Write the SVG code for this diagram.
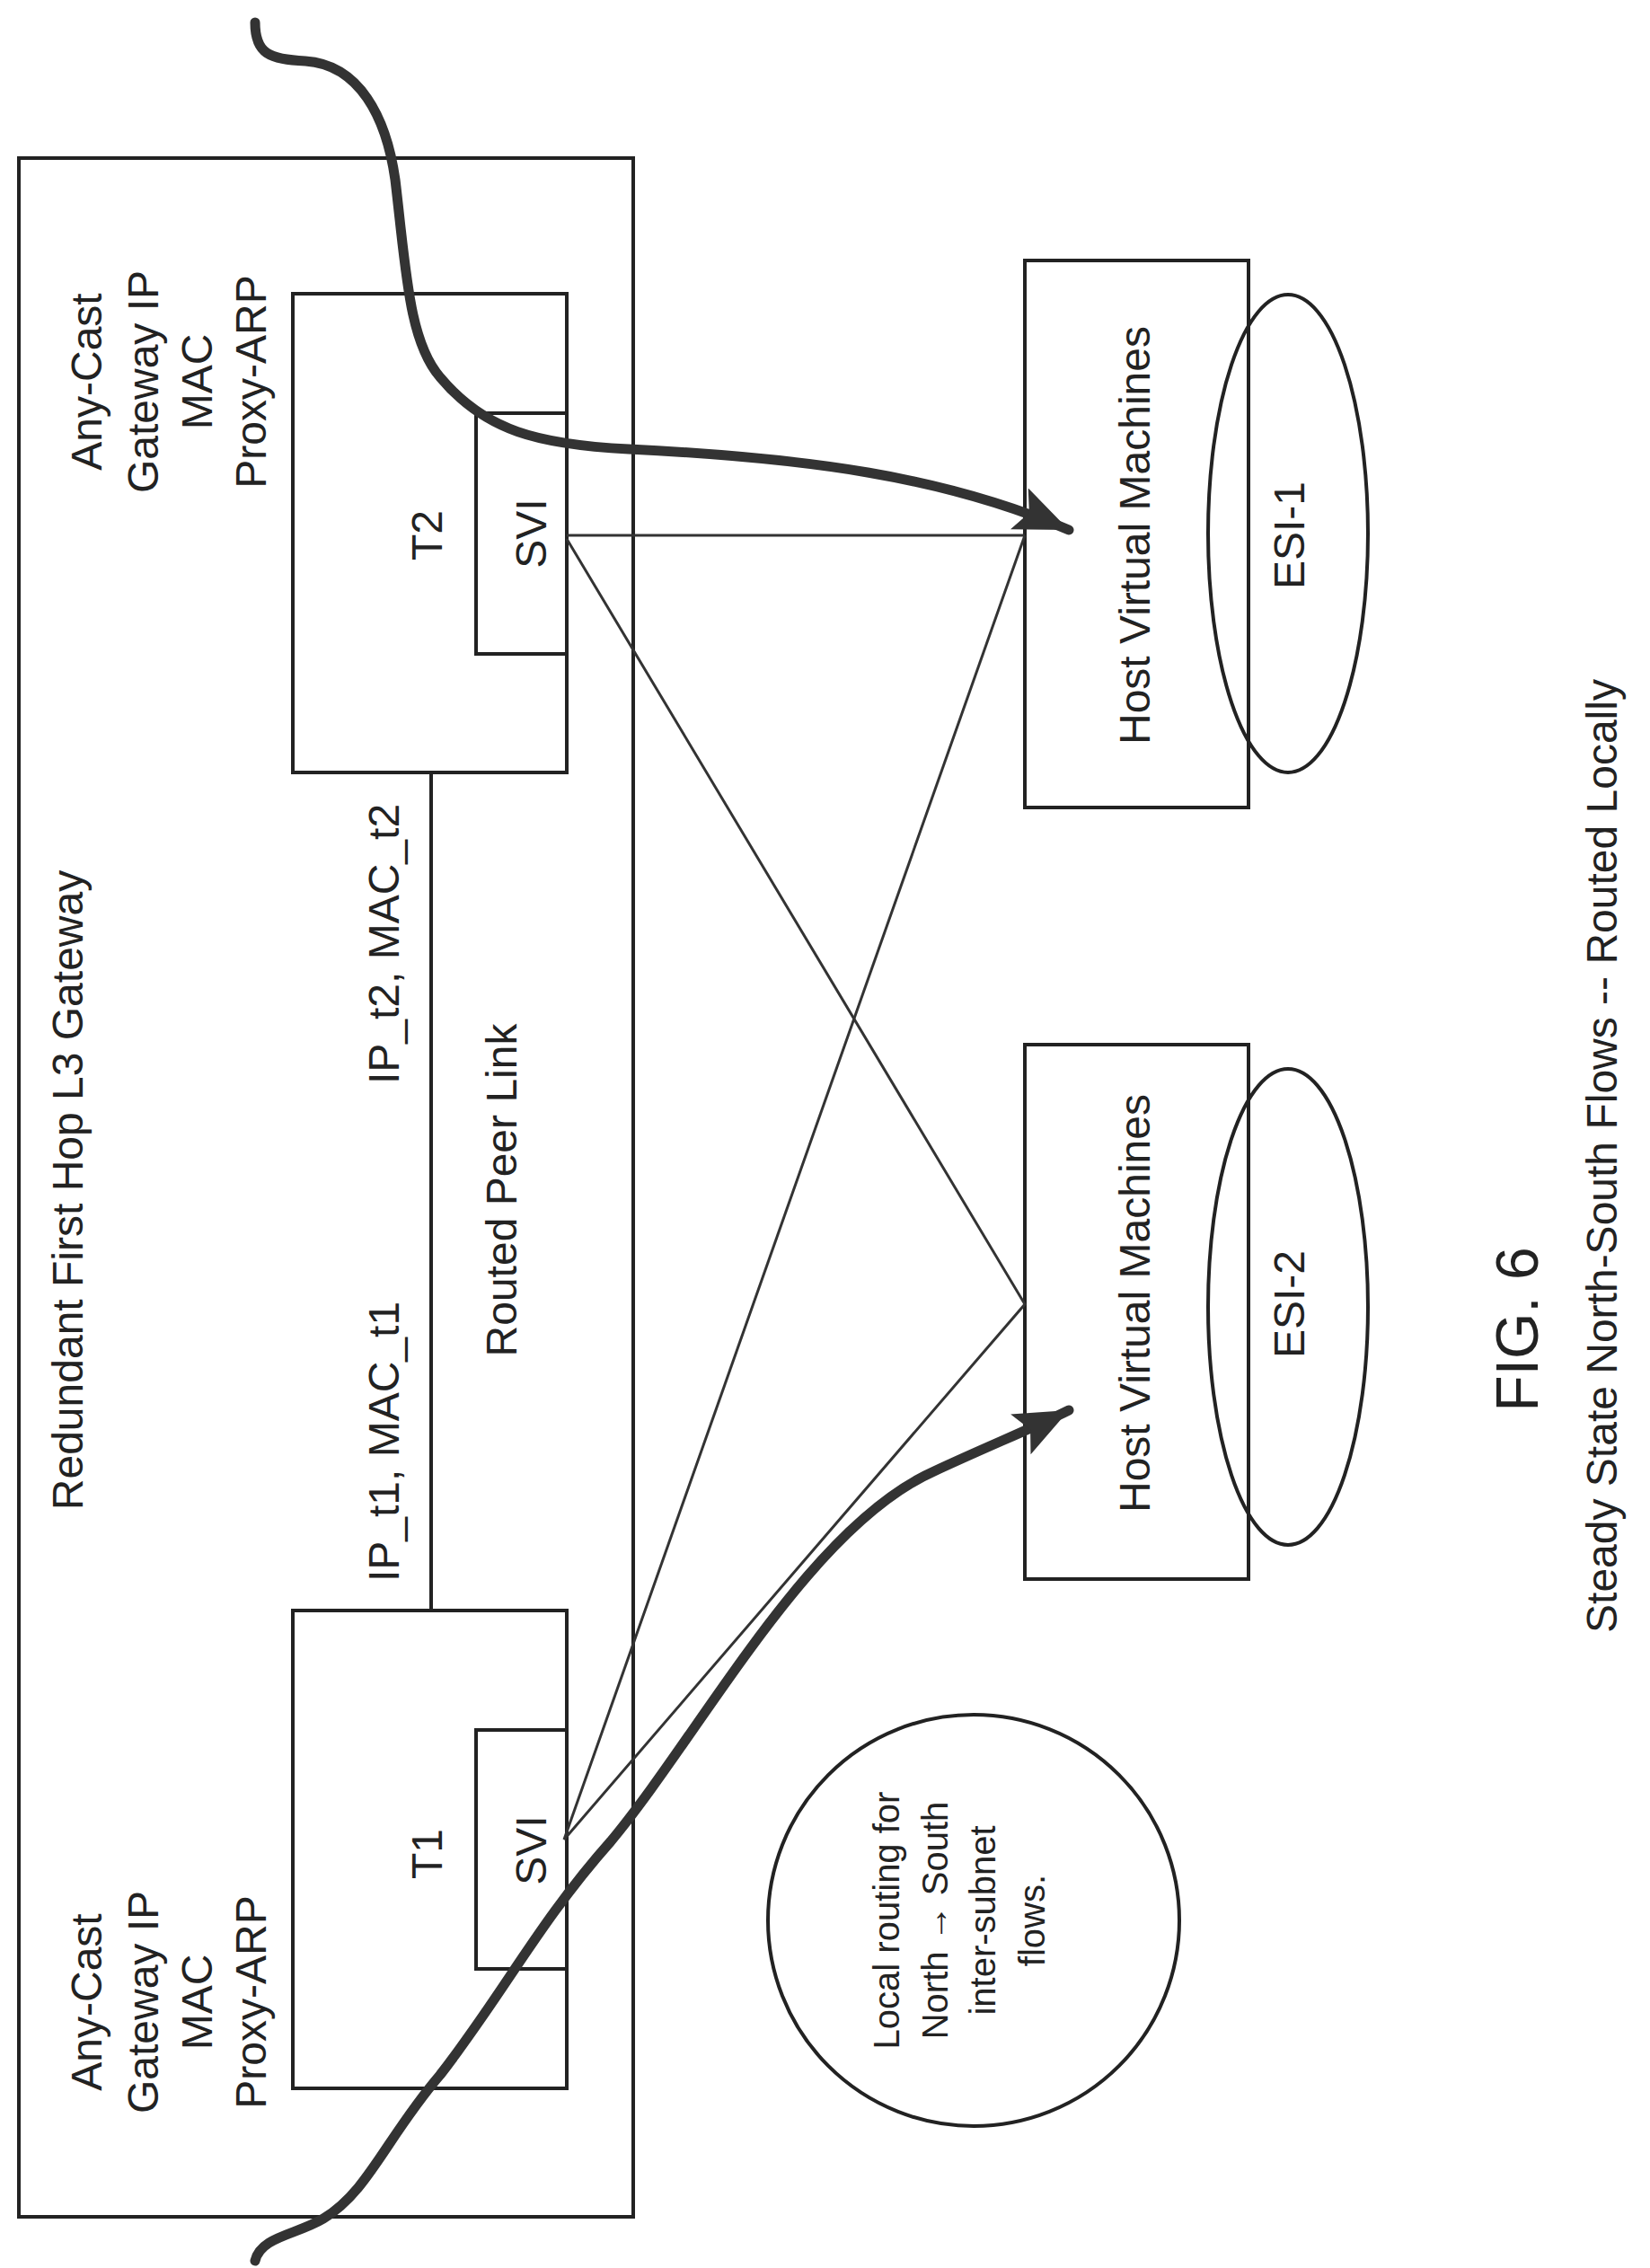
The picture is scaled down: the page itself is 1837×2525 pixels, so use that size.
<svg xmlns="http://www.w3.org/2000/svg" width="1837" height="2525" viewBox="0 0 1837 2525">
<style>
.b{fill:none;stroke:#222;stroke-width:4}
.t{font-family:"Liberation Sans",Arial,sans-serif;font-size:48px;fill:#222;text-anchor:middle}
.thin{fill:none;stroke:#333;stroke-width:3}
.thick{fill:none;stroke:#333;stroke-width:11;stroke-linecap:round}
</style>
<defs>
<marker id="ah" markerUnits="userSpaceOnUse" markerWidth="70" markerHeight="60" refX="60" refY="25" orient="auto">
<path d="M0,0 L60,25 L0,50 L12,25 Z" fill="#333"/>
</marker>
</defs>
<rect width="1837" height="2525" fill="#fff"/>
<g id="gateway">
<rect class="b" x="21" y="176" width="684" height="2292"/>
<text class="t" transform="translate(92,1325) rotate(-90)">Redundant First Hop L3 Gateway</text>
<text class="t" transform="translate(575,1325) rotate(-90)">Routed Peer Link</text>
</g>
<g id="anycast2">
<text class="t" transform="translate(113,425) rotate(-90)">Any-Cast</text>
<text class="t" transform="translate(176,425) rotate(-90)">Gateway IP</text>
<text class="t" transform="translate(236,425) rotate(-90)">MAC</text>
<text class="t" transform="translate(296,425) rotate(-90)">Proxy-ARP</text>
</g>
<g id="anycast1">
<text class="t" transform="translate(113,2229) rotate(-90)">Any-Cast</text>
<text class="t" transform="translate(176,2229) rotate(-90)">Gateway IP</text>
<text class="t" transform="translate(236,2229) rotate(-90)">MAC</text>
<text class="t" transform="translate(296,2229) rotate(-90)">Proxy-ARP</text>
</g>
<g id="t2">
<rect class="b" x="326" y="327" width="305" height="533" fill="#fff"/>
<text class="t" transform="translate(492,596) rotate(-90)">T2</text>
<text class="t" transform="translate(444,1051) rotate(-90)">IP_t2, MAC_t2</text>
</g>
<g id="svi2">
<rect class="b" x="530" y="460" width="101" height="268" fill="#fff"/>
<text class="t" transform="translate(608,594) rotate(-90)">SVI</text>
</g>
<g id="t1">
<rect class="b" x="326" y="1793" width="305" height="532" fill="#fff"/>
<text class="t" transform="translate(492,2064) rotate(-90)">T1</text>
<text class="t" transform="translate(444,1605) rotate(-90)">IP_t1, MAC_t1</text>
</g>
<g id="svi1">
<rect class="b" x="530" y="1926" width="101" height="266" fill="#fff"/>
<text class="t" transform="translate(608,2060) rotate(-90)">SVI</text>
</g>
<g id="host1">
<rect class="b" x="1141" y="290" width="249" height="609"/>
<text class="t" transform="translate(1280,596) rotate(-90)">Host Virtual Machines</text>
</g>
<g id="esi1">
<ellipse class="b" cx="1434" cy="594" rx="89" ry="266" fill="#fff"/>
<text class="t" transform="translate(1452,596) rotate(-90)">ESI-1</text>
</g>
<g id="host2">
<rect class="b" x="1141" y="1163" width="249" height="595"/>
<text class="t" transform="translate(1280,1451) rotate(-90)">Host Virtual Machines</text>
</g>
<g id="esi2">
<ellipse class="b" cx="1434" cy="1455" rx="89" ry="265" fill="#fff"/>
<text class="t" transform="translate(1452,1452) rotate(-90)">ESI-2</text>
</g>
<g id="note">
<circle class="b" cx="1084" cy="2138" r="229"/>
<g class="t" style="font-size:40px">
<text transform="translate(1001,2138) rotate(-90)">Local routing for</text>
<text transform="translate(1055,2138) rotate(-90)">North → South</text>
<text transform="translate(1108,2138) rotate(-90)">inter-subnet</text>
<text transform="translate(1163,2138) rotate(-90)">flows.</text>
</g>
</g>
<g id="caption">
<text class="t" style="font-size:66px" transform="translate(1712,1480) rotate(-90)">FIG. 6</text>
<text class="t" transform="translate(1800,1287) rotate(-90)">Steady State North-South Flows -- Routed Locally</text>
</g>
<g id="connectors">
<line class="b" x1="480" y1="860" x2="480" y2="1793"/>
<path class="thin" d="M631,596 L1141,596"/>
<path class="thin" d="M631,600 L1141,1452 L628,2048"/>
<path class="thin" d="M1141,596 L628,2048"/>
<path class="thick" marker-end="url(#ah)" d="M284,25 C284,60 300,66 340,68 C400,72 430,130 440,200 C452,300 455,380 490,420 C540,480 600,495 700,500 C900,510 1050,530 1190,590"/>
<path class="thick" marker-end="url(#ah)" d="M284,2517 C290,2490 330,2488 360,2470 C410,2440 430,2380 490,2310 C560,2220 600,2140 680,2050 C780,1930 900,1700 1040,1638 C1100,1610 1150,1590 1190,1570"/>
</g>
</svg>
